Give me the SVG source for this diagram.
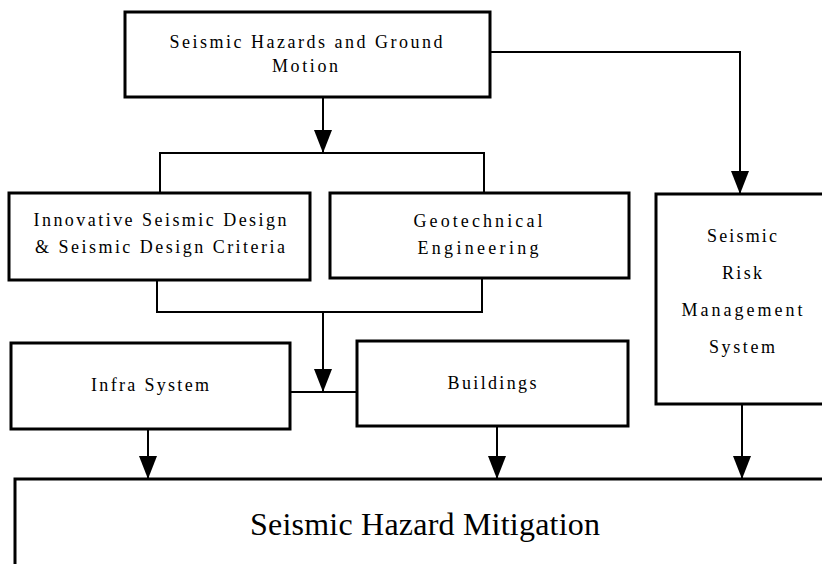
<svg xmlns="http://www.w3.org/2000/svg" width="822" height="564" viewBox="0 0 822 564">
<style>
.box{fill:#fff;stroke:#000;stroke-width:3}
.ln{fill:none;stroke:#000;stroke-width:2}
.t{font-family:"Liberation Serif","Times New Roman",serif;font-size:18px;fill:#000;text-anchor:middle}
.big{font-size:32px}
</style>
<defs>
<marker id="ah" viewBox="0 0 23 18" refX="23" refY="9" markerWidth="23" markerHeight="18" markerUnits="userSpaceOnUse" orient="auto">
<path d="M0,0 L23,9 L0,18 Z" fill="#000"/>
</marker>
</defs>
<rect width="822" height="564" fill="#fff"/>
<g id="connectors">
<path class="ln" d="M323,97 V153" marker-end="url(#ah)"/>
<path class="ln" d="M160,193 V153 H484 V193"/>
<path class="ln" d="M490,52 H740 V194" marker-end="url(#ah)"/>
<path class="ln" d="M157,280 V312 H482 V279"/>
<path class="ln" d="M323,312 V392" marker-end="url(#ah)"/>
<path class="ln" d="M290,392 H357"/>
<path class="ln" d="M148,429 V479" marker-end="url(#ah)"/>
<path class="ln" d="M497,426 V479" marker-end="url(#ah)"/>
<path class="ln" d="M742,404 V479" marker-end="url(#ah)"/>
</g>
<g id="hazards">
<rect class="box" x="125" y="12" width="365" height="85"/>
<text class="t" x="306" y="48" textLength="273">Seismic Hazards and Ground</text>
<text class="t" x="305" y="72" textLength="66">Motion</text>
</g>
<g id="innovative">
<rect class="box" x="9" y="193" width="301" height="87"/>
<text class="t" x="160" y="226" textLength="253">Innovative Seismic Design</text>
<text class="t" x="160" y="253" textLength="250">&amp; Seismic Design Criteria</text>
</g>
<g id="geotechnical">
<rect class="box" x="330" y="193" width="299" height="85"/>
<text class="t" x="478" y="227" textLength="129">Geotechnical</text>
<text class="t" x="478" y="254" textLength="121">Engineering</text>
</g>
<g id="risk">
<rect class="box" x="656" y="194" width="176" height="210"/>
<text class="t" x="742" y="242" textLength="70">Seismic</text>
<text class="t" x="742" y="279" textLength="40">Risk</text>
<text class="t" x="742" y="316" textLength="121">Management</text>
<text class="t" x="742" y="353" textLength="66">System</text>
</g>
<g id="infra">
<rect class="box" x="11" y="343" width="279" height="86"/>
<text class="t" x="150" y="391" textLength="118">Infra System</text>
</g>
<g id="buildings">
<rect class="box" x="357" y="341" width="271" height="85"/>
<text class="t" x="492" y="389" textLength="89">Buildings</text>
</g>
<g id="mitigation">
<path class="box" d="M15,570 V479 H832 V570"/>
<text class="t big" x="425" y="535" textLength="350">Seismic Hazard Mitigation</text>
</g>
</svg>
